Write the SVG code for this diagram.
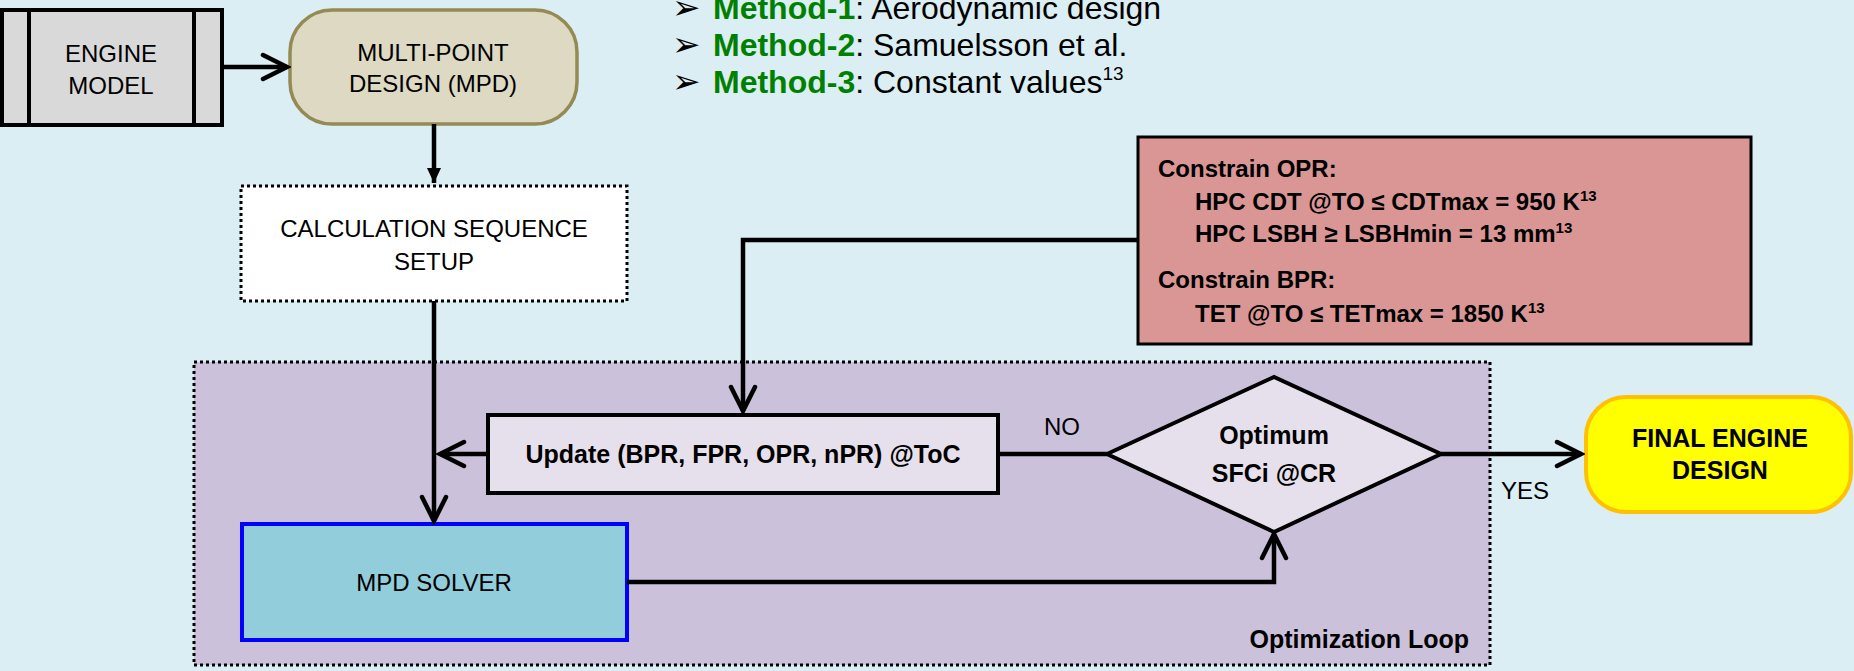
<svg xmlns="http://www.w3.org/2000/svg" width="1854" height="671" viewBox="0 0 1854 671">
<defs>
<style>
.t{font-family:"Liberation Sans",Arial,sans-serif;font-size:24px;fill:#000}
.b{font-family:"Liberation Sans",Arial,sans-serif;font-size:25px;font-weight:bold;fill:#000}
.c{font-family:"Liberation Sans",Arial,sans-serif;font-size:24px;font-weight:bold;fill:#000}
.m{font-family:"Liberation Sans",Arial,sans-serif;font-size:32px;fill:#000}
.g{font-weight:bold;fill:#008000}
.bul{font-family:"DejaVu Sans",sans-serif;font-size:34px;fill:#000}
.mid{text-anchor:middle}
.con{fill:none;stroke:#000;stroke-width:4.5}
</style>
<marker id="chev" viewBox="0 0 32 32" refX="28" refY="16" markerWidth="32" markerHeight="32" markerUnits="userSpaceOnUse" orient="auto">
<path d="M4,4 L28,16 L4,28" fill="none" stroke="#000" stroke-width="4.5" stroke-linecap="round"/>
</marker>
<marker id="tri" viewBox="0 0 16 16" refX="15" refY="8" markerWidth="16" markerHeight="16" markerUnits="userSpaceOnUse" orient="auto">
<path d="M0,1 L15,8 L0,15 Z" fill="#000"/>
</marker>
</defs>
<rect x="0" y="0" width="1854" height="671" fill="#daeef3"/>

<g id="loop">
<rect x="194" y="362" width="1296" height="303" fill="#ccc1da" stroke="#000" stroke-width="3" stroke-dasharray="3 3"/>
<text class="b" x="1469" y="648" text-anchor="end">Optimization Loop</text>
</g>

<g id="methods">
<text class="bul" x="672" y="19">➢</text>
<text class="m" x="713" y="19"><tspan class="g">Method-1</tspan>: Aerodynamic design</text>
<text class="bul" x="672" y="56">➢</text>
<text class="m" x="713" y="56"><tspan class="g">Method-2</tspan>: Samuelsson et al.</text>
<text class="bul" x="672" y="93">➢</text>
<text class="m" x="713" y="93"><tspan class="g">Method-3</tspan>: Constant values<tspan font-size="19" dy="-13">13</tspan></text>
</g>

<g id="engine-model">
<rect x="2" y="10" width="220" height="115" fill="#d9d9d9" stroke="#000" stroke-width="4"/>
<line x1="29" y1="10" x2="29" y2="125" stroke="#000" stroke-width="4"/>
<line x1="194" y1="10" x2="194" y2="125" stroke="#000" stroke-width="4"/>
<text class="t mid" x="111" y="62">ENGINE</text>
<text class="t mid" x="111" y="94">MODEL</text>
</g>

<g id="mpd">
<rect x="290" y="10" width="287" height="114" rx="42" ry="42" fill="#ddd9c3" stroke="#948a54" stroke-width="3.5"/>
<text class="t mid" x="433" y="61">MULTI-POINT</text>
<text class="t mid" x="433" y="92">DESIGN (MPD)</text>
</g>

<g id="calc-setup">
<rect x="241" y="186" width="386" height="115" fill="#fff" stroke="#000" stroke-width="3" stroke-dasharray="3 3"/>
<text class="t mid" x="434" y="237">CALCULATION SEQUENCE</text>
<text class="t mid" x="434" y="270">SETUP</text>
</g>

<g id="constraints">
<rect x="1138" y="137" width="613" height="207" fill="#d99694" stroke="#000" stroke-width="3"/>
<text class="c" x="1158" y="177">Constrain OPR:</text>
<text class="c" x="1195" y="210">HPC CDT @TO ≤ CDTmax = 950 K<tspan font-size="15" dy="-9">13</tspan></text>
<text class="c" x="1195" y="242">HPC LSBH ≥ LSBHmin = 13 mm<tspan font-size="15" dy="-9">13</tspan></text>
<text class="c" x="1158" y="288">Constrain BPR:</text>
<text class="c" x="1195" y="322">TET @TO ≤ TETmax = 1850 K<tspan font-size="15" dy="-9">13</tspan></text>
</g>

<g id="update">
<rect x="488" y="415" width="510" height="78" fill="#e6e0ec" stroke="#000" stroke-width="4"/>
<text class="b mid" x="743" y="463">Update (BPR, FPR, OPR, nPR) @ToC</text>
</g>

<g id="solver">
<rect x="242" y="524" width="385" height="116" fill="#92cddc" stroke="#0000ff" stroke-width="4"/>
<text class="t mid" x="434" y="591">MPD SOLVER</text>
</g>

<g id="decision">
<polygon points="1107,454 1274,377 1441,454 1274,532" fill="#e6e0ec" stroke="#000" stroke-width="4"/>
<text class="b mid" x="1274" y="444">Optimum</text>
<text class="b mid" x="1274" y="482">SFCi @CR</text>
</g>

<g id="final">
<rect x="1586" y="397" width="265" height="115" rx="40" ry="40" fill="#ffff00" stroke="#ffc000" stroke-width="4"/>
<text class="b mid" x="1720" y="447">FINAL ENGINE</text>
<text class="b mid" x="1720" y="479">DESIGN</text>
</g>

<g id="connectors">
<line class="con" x1="222" y1="67" x2="287" y2="67" marker-end="url(#chev)"/>
<line class="con" x1="434" y1="124" x2="434" y2="183" marker-end="url(#tri)"/>
<line class="con" x1="434" y1="301" x2="434" y2="521" marker-end="url(#chev)"/>
<polyline class="con" points="1138,240 743,240 743,411" marker-end="url(#chev)"/>
<line class="con" x1="488" y1="454" x2="440" y2="454" marker-end="url(#chev)"/>
<line class="con" x1="998" y1="454" x2="1107" y2="454"/>
<polyline class="con" points="627,582 1274,582 1274,534" marker-end="url(#chev)"/>
<line class="con" x1="1441" y1="454" x2="1581" y2="454" marker-end="url(#chev)"/>
<text class="t" x="1044" y="435">NO</text>
<text class="t" x="1501" y="499">YES</text>
</g>
</svg>
